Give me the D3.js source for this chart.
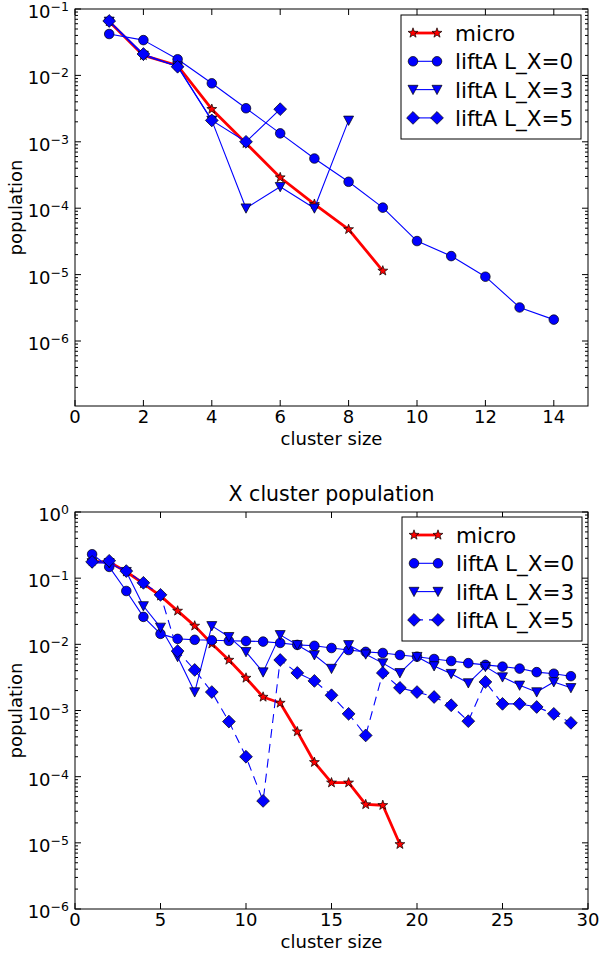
<!DOCTYPE html>
<html>
<head>
<meta charset="utf-8">
<script src="https://cdn.jsdelivr.net/npm/d3@7/dist/d3.min.js"></script>
<style>
  body { margin: 0; background: #fff; }
  svg { display: block; }
  text { font-family: "DejaVu Sans", sans-serif; fill: #000; }
</style>
</head>
<body>
<div id="chart"></div>
<script>
// ---- data: upper panel ----
const topMicroX = [1, 2, 3, 4, 5, 6, 7, 8, 9];
const topMicro = [0.065, 0.020, 0.0141, 0.0031, 0.00095, 2.9e-4, 1.15e-4, 4.8e-5, 1.14e-5];
const topLx0X = [1, 2, 3, 4, 5, 6, 7, 8, 9, 10, 11, 12, 13, 14];
const topLx0 = [0.042, 0.034, 0.0175, 0.0076, 0.0032, 0.00134, 5.6e-4, 2.5e-4, 1.02e-4, 3.2e-5, 1.9e-5, 9.3e-6, 3.2e-6, 2.1e-6];
const topLx3X = [1, 2, 3, 4, 5, 6, 7, 8];
const topLx3 = [0.065, 0.020, 0.0138, 0.0021, 1.0e-4, 2.1e-4, 1.0e-4, 0.0021];
const topLx5X = [1, 2, 3, 4, 5, 6];
const topLx5 = [0.066, 0.021, 0.0135, 0.0021, 0.001, 0.0031];

// ---- data: lower panel ----
const botMicroX = d3.range(1, 20);
const botMicro = [0.18, 0.175, 0.125, 0.083, 0.054, 0.032, 0.019, 0.0102, 0.0058, 0.0031, 0.0016, 0.0013,
  4.8e-4, 1.65e-4, 8.1e-5, 8.1e-5, 3.8e-5, 3.7e-5, 9.5e-6];
const botLxX = d3.range(1, 30);
const botLx0 = [0.23, 0.148, 0.064, 0.026, 0.0144, 0.0121, 0.0117, 0.0115, 0.0113, 0.0112, 0.011, 0.0105,
  0.0098, 0.0095, 0.0088, 0.0082, 0.0077, 0.0074, 0.0069, 0.0065, 0.0060, 0.0056, 0.0052, 0.0049,
  0.0046, 0.0043, 0.0038, 0.0036, 0.0033];
const botLx3 = [0.17, 0.17, 0.125, 0.038, 0.018, 0.0065, 0.0019, 0.019, 0.013, 0.0077, 0.0038, 0.0139,
  0.0098, 0.0069, 0.0043, 0.0098, 0.0071, 0.0052, 0.0037, 0.0065, 0.0047, 0.0036, 0.0026, 0.0046,
  0.0032, 0.0024, 0.0019, 0.0027, 0.0022];
const botLx5 = [0.176, 0.183, 0.128, 0.085, 0.056, 0.0079, 0.0041, 0.0019, 6.8e-4, 2.0e-4, 4.3e-5, 0.0058,
  0.0037, 0.0028, 0.0017, 8.9e-4, 4.2e-4, 0.0037, 0.0022, 0.0019, 0.0016, 0.0012, 6.9e-4, 0.0027,
  0.00126, 0.00126, 0.00113, 8.9e-4, 6.5e-4];

// ---- ticks / labels ----
const seriesNames = ['micro', 'liftA L_X=0', 'liftA L_X=3', 'liftA L_X=5'];
const topXTicks = [0, 2, 4, 6, 8, 10, 12, 14];
const topYExps = [-1, -2, -3, -4, -5, -6];
const botXTicks = [0, 5, 10, 15, 20, 25, 30];
const botYExps = [0, -1, -2, -3, -4, -5, -6];
const xLabel = 'cluster size';
const yLabel = 'population';
const botTitle = 'X cluster population';

const W = 602, H = 953;
const left = 75, right = 588;

const svg = d3.select('#chart').append('svg')
  .attr('width', W)
  .attr('height', H);

// marker shapes
const markers = {
  star: (() => {
    const pts = [];
    for (let i = 0; i < 10; i++) {
      const r = i % 2 === 0 ? 5.2 : 2.1;
      const a = -Math.PI / 2 + i * Math.PI / 5;
      pts.push([r * Math.cos(a), r * Math.sin(a)]);
    }
    return 'M' + pts.map(p => p.join(',')).join('L') + 'Z';
  })(),
  circle: 'M4.8,0A4.8,4.8,0,1,1,-4.8,0A4.8,4.8,0,1,1,4.8,0Z',
  tri: 'M-5,-4.3L5,-4.3L0,5Z',
  diamond: 'M0,-6.4L6.4,0L0,6.4L-6.4,0Z'
};

const styles = [
  { marker: 'star', fill: '#ff0000', stroke: '#ff0000', width: 2.8, dash: null },
  { marker: 'circle', fill: '#0000ff', stroke: '#0000ff', width: 1.1, dash: null },
  { marker: 'tri', fill: '#0000ff', stroke: '#0000ff', width: 1.1, dash: null },
  { marker: 'diamond', fill: '#0000ff', stroke: '#0000ff', width: 1.1, dash: null }
];

function drawPanel(cfg) {
  const x = d3.scaleLinear().domain(cfg.xDomain).range([left, right]);
  const y = d3.scaleLog().domain(cfg.yDomain).range([cfg.bottom, cfg.top]);
  const g = svg.append('g');

  // series
  cfg.series.forEach((s, i) => {
    const st = Object.assign({}, styles[i], s.style || {});
    const pts = s.x.map((d, j) => [d, s.y[j]]);
    const line = d3.line().x(d => x(d[0])).y(d => y(d[1]));
    g.append('path')
      .datum(pts)
      .attr('d', line)
      .attr('fill', 'none')
      .attr('stroke', st.stroke)
      .attr('stroke-width', st.width)
      .attr('stroke-dasharray', st.dash)
      .attr('stroke-linejoin', 'round');
    g.selectAll(null)
      .data(pts)
      .enter()
      .append('path')
      .attr('d', markers[st.marker])
      .attr('transform', d => `translate(${x(d[0])},${y(d[1])})`)
      .attr('fill', st.fill)
      .attr('stroke', '#000')
      .attr('stroke-width', 0.7);
  });

  // frame
  g.append('rect')
    .attr('x', left)
    .attr('y', cfg.top)
    .attr('width', right - left)
    .attr('height', cfg.bottom - cfg.top)
    .attr('fill', 'none')
    .attr('stroke', '#000')
    .attr('stroke-width', 1);

  // x ticks (inward, bottom and top)
  cfg.xTicks.forEach(t => {
    const px = x(t);
    g.append('line').attr('x1', px).attr('x2', px).attr('y1', cfg.bottom).attr('y2', cfg.bottom - 6)
      .attr('stroke', '#000');
    g.append('line').attr('x1', px).attr('x2', px).attr('y1', cfg.top).attr('y2', cfg.top + 6)
      .attr('stroke', '#000');
    g.append('text')
      .attr('x', px)
      .attr('y', cfg.bottom + 17)
      .attr('text-anchor', 'middle')
      .style('font-size', '18px')
      .text(t);
  });

  // y ticks: major with labels, minor at 2..9
  const lo = Math.floor(Math.log10(cfg.yDomain[0]));
  const hi = Math.ceil(Math.log10(cfg.yDomain[1]));
  for (let e = lo; e < hi; e++) {
    for (let m = 2; m <= 9; m++) {
      const v = m * Math.pow(10, e);
      if (v < cfg.yDomain[0] || v > cfg.yDomain[1]) continue;
      const py = y(v);
      g.append('line').attr('x1', left).attr('x2', left + 3).attr('y1', py).attr('y2', py).attr('stroke', '#000');
      g.append('line').attr('x1', right).attr('x2', right - 3).attr('y1', py).attr('y2', py).attr('stroke', '#000');
    }
  }
  cfg.yExps.forEach(e => {
    const py = y(Math.pow(10, e));
    g.append('line').attr('x1', left).attr('x2', left + 6).attr('y1', py).attr('y2', py).attr('stroke', '#000');
    g.append('line').attr('x1', right).attr('x2', right - 6).attr('y1', py).attr('y2', py).attr('stroke', '#000');
    const t = g.append('text')
      .attr('x', left - 6)
      .attr('y', py + 9)
      .attr('text-anchor', 'end')
      .style('font-size', '18px');
    t.append('tspan').text('10');
    t.append('tspan')
      .attr('dy', -7)
      .style('font-size', '12.5px')
      .text(e < 0 ? '\u2212' + (-e) : String(e));
  });

  // axis labels
  g.append('text')
    .attr('x', (left + right) / 2)
    .attr('y', cfg.bottom + 39)
    .attr('text-anchor', 'middle')
    .style('font-size', '18px')
    .text(xLabel);
  g.append('text')
    .attr('transform', `translate(22,${(cfg.top + cfg.bottom) / 2}) rotate(-90)`)
    .attr('text-anchor', 'middle')
    .style('font-size', '18px')
    .text(yLabel);

  if (cfg.title) {
    g.append('text')
      .attr('x', (left + right) / 2)
      .attr('y', cfg.top - 11)
      .attr('text-anchor', 'middle')
      .style('font-size', '20.5px')
      .text(cfg.title);
  }

  // legend
  const lg = g.append('g').attr('transform', `translate(${cfg.legend[0]},${cfg.legend[1]})`);
  lg.append('rect')
    .attr('width', 180)
    .attr('height', 124)
    .attr('fill', '#fff')
    .attr('stroke', '#000')
    .attr('stroke-width', 1);
  cfg.series.forEach((s, i) => {
    const st = Object.assign({}, styles[i], s.style || {});
    const ry = 18 + i * 28.3;
    lg.append('line')
      .attr('x1', 12).attr('x2', 36).attr('y1', ry).attr('y2', ry)
      .attr('stroke', st.stroke)
      .attr('stroke-width', st.width)
      .attr('stroke-dasharray', st.dash);
    [12, 36].forEach(mx => {
      lg.append('path')
        .attr('d', markers[st.marker])
        .attr('transform', `translate(${mx},${ry})`)
        .attr('fill', st.fill)
        .attr('stroke', '#000')
        .attr('stroke-width', 0.7);
    });
    lg.append('text')
      .attr('x', 54)
      .attr('y', ry + 8)
      .style('font-size', '21.5px')
      .text(seriesNames[i]);
  });
}

drawPanel({
  top: 9, bottom: 406,
  xDomain: [0, 15], yDomain: [1.05e-7, 0.1],
  xTicks: topXTicks, yExps: topYExps,
  legend: [401, 15],
  series: [
    { x: topMicroX, y: topMicro },
    { x: topLx0X, y: topLx0 },
    { x: topLx3X, y: topLx3 },
    { x: topLx5X, y: topLx5 }
  ]
});

drawPanel({
  top: 512, bottom: 909,
  xDomain: [0, 30], yDomain: [1e-6, 1],
  xTicks: botXTicks, yExps: botYExps,
  legend: [402, 517],
  title: botTitle,
  series: [
    { x: botMicroX, y: botMicro },
    { x: botLxX, y: botLx0 },
    { x: botLxX, y: botLx3 },
    { x: botLxX, y: botLx5, style: { dash: '9,6' } }
  ]
});
</script>
</body>
</html>
